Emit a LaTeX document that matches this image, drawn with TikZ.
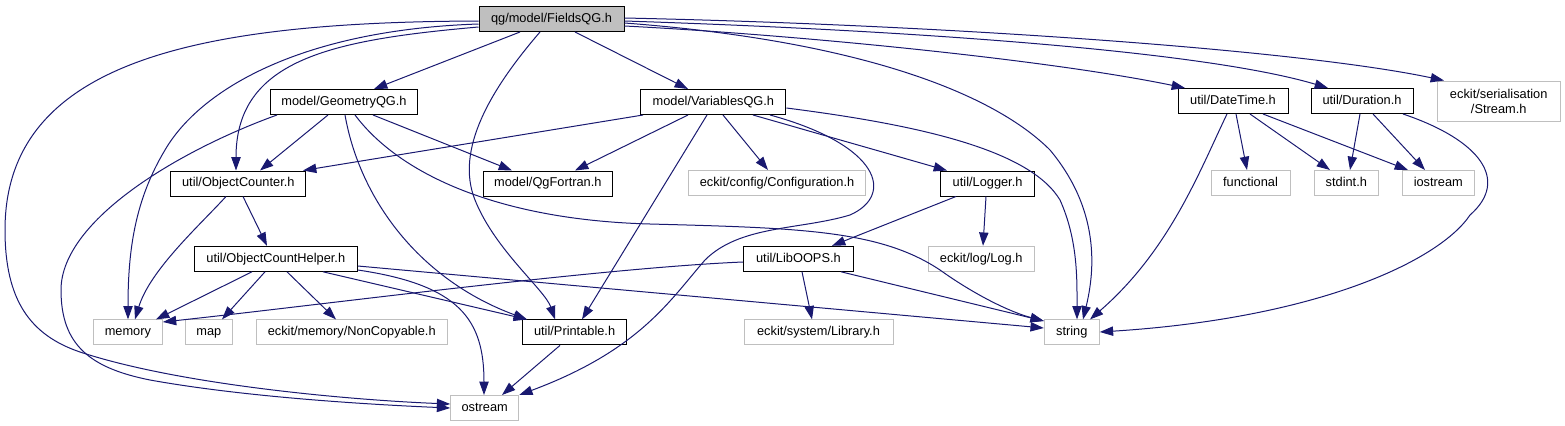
\documentclass[tikz,border=0pt]{standalone}
\usepackage{fontspec}
\setmainfont{Liberation Sans}
\usetikzlibrary{arrows.meta}
\definecolor{mblue}{HTML}{191970}
\definecolor{grey75}{HTML}{BFBFBF}
\begin{document}
\begin{tikzpicture}[x=0.75pt,y=-0.75pt,
  bx/.style={draw=black,line width=0.75pt,inner sep=0pt,minimum height=25*0.75pt,
    font=\fontsize{9.6}{11.25}\selectfont,fill=white},
  nbox/.style={bx,text height=7.1pt,text depth=2.1pt},
  gbox/.style={nbox,draw=grey75},
  wd/.style={minimum width=#1*0.75pt},
  dep/.style={draw=mblue,line width=0.75pt,-{Triangle[length=10pt,width=7pt]}}
]
\useasboundingbox (0,0) rectangle (1565,425);
% nodes
\node[nbox,fill=grey75,wd=145] (fields) at (551.5,19) {qg/model/FieldsQG.h};
\node[nbox,wd=147] (geo) at (344,102) {model/GeometryQG.h};
\node[nbox,wd=145] (var) at (713.4,102) {model/VariablesQG.h};
\node[nbox,wd=110] (dt) at (1233,101) {util/DateTime.h};
\node[nbox,wd=102] (dur) at (1362,101) {util/Duration.h};
\node[bx,draw=grey75,wd=123,minimum height=40*0.75pt,align=center] (stream) at (1498.7,101) {eckit/serialisation\\/Stream.h};
\node[nbox,wd=135] (oc) at (238.3,183.5) {util/ObjectCounter.h};
\node[nbox,wd=129] (qgf) at (547.8,183.5) {model/QgFortran.h};
\node[gbox,wd=177] (conf) at (777,183) {eckit/config/Configuration.h};
\node[nbox,wd=94] (logger) at (987.6,183.5) {util/Logger.h};
\node[gbox,wd=79] (func) at (1250.5,183) {functional};
\node[gbox,wd=64] (stdint) at (1346.3,183) {stdint.h};
\node[gbox,wd=72] (iostr) at (1438.3,183) {iostream};
\node[nbox,wd=163] (och) at (275.8,258.8) {util/ObjectCountHelper.h};
\node[nbox,wd=110] (lib) at (798.4,258.8) {util/LibOOPS.h};
\node[gbox,wd=106] (log) at (981.2,258.8) {eckit/log/Log.h};
\node[gbox,wd=69] (mem) at (127.9,332.4) {memory};
\node[gbox,wd=47] (map) at (208.9,332.4) {map};
\node[gbox,wd=191] (noncp) at (351.7,332.4) {eckit/memory/NonCopyable.h};
\node[nbox,wd=104] (prt) at (574.6,332.4) {util/Printable.h};
\node[gbox,wd=149] (libry) at (818.5,332.4) {eckit/system/Library.h};
\node[gbox,wd=55] (str) at (1071.8,332.4) {string};
\node[gbox,wd=68] (ost) at (484.7,408) {ostream};
% FieldsQG
\draw[dep] (fields.south -| 520,0) -- (geo.north -| 374,0);
\draw[dep] (fields.south -| 575,0) -- (var.north -| 688,0);
\draw[dep] (fields.west |- 0,27) .. controls (330,40) and (236,60) .. (oc.north -| 236,0);
\draw[dep] (fields.west |- 0,24) .. controls (300,30) and (200,90) .. (165,150) .. controls (135,200) and (128,250) .. (mem.north -| 128,0);
\draw[dep] (fields.west |- 0,21) .. controls (200,22) and (5,60) .. (5,230) .. controls (5,300) and (30,335) .. (80,352) .. controls (180,385) and (350,400) .. (ost.west |- 0,404);
\draw[dep] (fields.south -| 540,0) .. controls (490,90) and (455,150) .. (475,200) .. controls (495,250) and (545,290) .. (prt.north -| 555,0);
\draw[dep] (fields.east |- 0,23) .. controls (850,40) and (990,90) .. (1050,150) .. controls (1100,210) and (1095,270) .. (str.north -| 1083,0);
\draw[dep] (fields.east |- 0,26) .. controls (800,35) and (1050,60) .. (dt.north -| 1185,0);
\draw[dep] (fields.east |- 0,21) .. controls (900,30) and (1200,50) .. (dur.north -| 1328,0);
\draw[dep] (fields.east |- 0,18) .. controls (950,25) and (1300,50) .. (stream.north -| 1444,0);
% GeometryQG
\draw[dep] (geo.south -| 277,0) .. controls (180,150) and (61,220) .. (61,290) .. controls (61,345) and (90,368) .. (150,380) .. controls (250,398) and (380,405) .. (ost.west |- 0,408);
\draw[dep] (geo.south -| 328,0) -- (oc.north -| 260,0);
\draw[dep] (geo.south -| 345,0) .. controls (360,200) and (420,280) .. (prt.north -| 527,0);
\draw[dep] (geo.south -| 355,0) .. controls (400,175) and (500,220) .. (650,224) .. controls (800,228) and (880,230) .. (940,270) .. controls (975,295) and (1010,312) .. (str.west |- 0,321);
\draw[dep] (geo.south -| 373,0) -- (qgf.north -| 512,0);
% VariablesQG
\draw[dep] (var.south -| 643,0) -- (oc.north -| 303,0);
\draw[dep] (var.south -| 688,0) -- (qgf.north -| 575,0);
\draw[dep] (var.south -| 707,0) -- (prt.north -| 582,0);
\draw[dep] (var.south -| 723,0) -- (conf.north -| 768,0);
\draw[dep] (var.south -| 753,0) -- (logger.north -| 947,0);
\draw[dep] (var.south -| 770,0) .. controls (880,145) and (895,195) .. (850,215) .. controls (800,230) and (740,225) .. (705,260) .. controls (670,300) and (640,350) .. (ost.north east);
\draw[dep] (var.east |- 0,108) .. controls (920,125) and (1030,150) .. (1060,200) .. controls (1078,240) and (1077,280) .. (str.north -| 1077,0);
% ObjectCounter
\draw[dep] (oc.south -| 226,0) .. controls (200,225) and (150,270) .. (mem.north -| 135,0);
\draw[dep] (oc.south -| 243,0) -- (och.north -| 267,0);
% ObjectCountHelper
\draw[dep] (och.south -| 252,0) -- (mem.north -| 156,0);
\draw[dep] (och.south -| 265,0) -- (map.north -| 222,0);
\draw[dep] (och.south -| 287,0) -- (noncp.north -| 336,0);
\draw[dep] (och.south -| 323,0) -- (prt.north -| 527,0);
\draw[dep] (och.east |- 0,266) -- (str.west |- 0,328);
\draw[dep] (och.east |- 0,270) .. controls (460,285) and (484,320) .. (ost.north -| 484,0);
% Logger, LibOOPS
\draw[dep] (logger.south -| 956,0) -- (lib.north -| 832,0);
\draw[dep] (logger.south -| 986,0) -- (log.north -| 983,0);
\draw[dep] (lib.west |- 0,262) .. controls (600,268) and (320,305) .. (mem.east |- 0,322);
\draw[dep] (lib.south -| 802,0) -- (libry.north -| 812,0);
\draw[dep] (lib.south -| 841,0) -- (str.west |- 0,321);
% DateTime, Duration
\draw[dep] (dt.south -| 1227,0) .. controls (1200,170) and (1170,250) .. (str.north -| 1090,0);
\draw[dep] (dt.south -| 1236,0) -- (func.north -| 1247,0);
\draw[dep] (dt.south -| 1250,0) -- (stdint.north -| 1330,0);
\draw[dep] (dt.south -| 1263,0) -- (iostr.north -| 1408,0);
\draw[dep] (dur.south -| 1360,0) -- (stdint.north -| 1350,0);
\draw[dep] (dur.south -| 1373,0) -- (iostr.north -| 1425,0);
\draw[dep] (dur.south -| 1403,0) .. controls (1480,140) and (1510,180) .. (1470,215) .. controls (1440,260) and (1320,318) .. (str.east |- 0,332);
% Printable
\draw[dep] (prt.south -| 560,0) -- (ost.north -| 502,0);
\end{tikzpicture}
\end{document}
